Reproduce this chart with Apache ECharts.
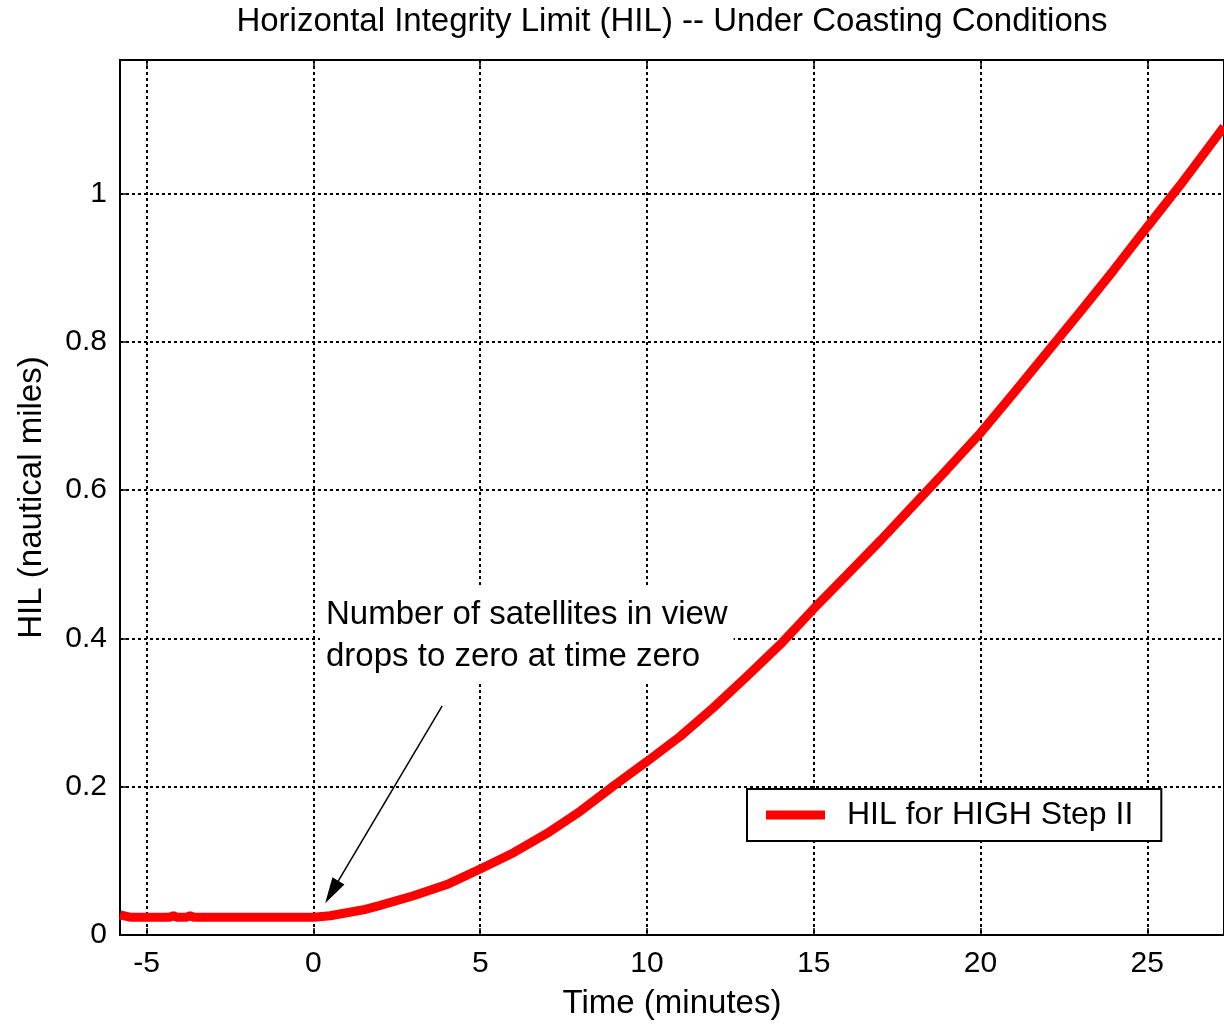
<!DOCTYPE html>
<html>
<head>
<meta charset="utf-8">
<title>HIL under coasting conditions</title>
<script src="https://cdn.jsdelivr.net/npm/echarts@6/dist/echarts.min.js"></script>
<style>
    html, body { margin: 0; padding: 0; background: #ffffff; }
    #echarts-hil-graph { width: 1224px; height: 1025px; }
</style>
</head>
<body>
<div id="echarts-hil-graph"></div>
<script>
/* Data. */
var time_minutes = [-5.8, -5.5, -4.3, -4.2, -4.1, -3.8, -3.7, -3.6, 0, 0.5, 1, 1.5, 2, 3, 4, 5, 6, 7, 8, 9, 10,
    11, 12, 13, 14, 15, 16, 17, 18, 19, 20, 21, 22, 23, 24, 25, 26, 27, 27.3];
var hil_nautical_miles = [0.027, 0.024, 0.024, 0.026, 0.024, 0.024, 0.026, 0.024, 0.024, 0.026, 0.030, 0.034, 0.040,
    0.053, 0.068, 0.089, 0.111, 0.137, 0.167, 0.201, 0.234, 0.268, 0.307, 0.349, 0.392, 0.440, 0.486, 0.532, 0.580,
    0.628, 0.677, 0.731, 0.786, 0.841, 0.897, 0.955, 1.012, 1.072, 1.090];

var x_ticks = [-5, 0, 5, 10, 15, 20, 25];
var x_tick_labels = ['-5', '0', '5', '10', '15', '20', '25'];
var y_ticks = [0, 0.2, 0.4, 0.6, 0.8, 1];
var y_tick_labels = ['0', '0.2', '0.4', '0.6', '0.8', '1'];

var series_name = 'HIL for HIGH Step II';
var annotation_text = 'Number of satellites in view\ndrops to zero at time zero';
var arrow_from = [3.86, 0.309];
var arrow_to = [0.55, 0.058];

var font_family = '"Liberation Sans", Arial, Helvetica, sans-serif';
var hil_color = '#ff0000';

var hil_points = [];
for (var i = 0; i < time_minutes.length; i++) {
    hil_points.push([time_minutes[i], hil_nautical_miles[i]]);
}

function tick_label(ticks, labels) {
    return function (value) {
        for (var k = 0; k < ticks.length; k++) {
            if (Math.abs(ticks[k] - value) < 1e-9) {
                return labels[k];
            }
        }
        return '';
    };
}

var grid_line = { color: '#000000', width: 2, type: [3, 3] };

var echarts_hil_graph = echarts.init(document.getElementById('echarts-hil-graph'));

var option = {
    animation: false,
    backgroundColor: '#ffffff',
    title: {
        text: 'Horizontal Integrity Limit (HIL) -- Under Coasting Conditions',
        left: 672,
        top: 5,
        padding: 0,
        textAlign: 'center',
        textStyle: {
            fontFamily: font_family,
            fontSize: 33,
            fontWeight: 'normal',
            color: '#000000'
        }
    },
    grid: {
        left: 120,
        top: 60,
        right: -2,
        bottom: 89,
        show: true,
        borderColor: '#000000',
        borderWidth: 2
    },
    legend: {
        data: [series_name],
        left: 747,
        top: 789,
        icon: 'rect',
        itemWidth: 59,
        itemHeight: 9,
        padding: [10, 28, 10, 19],
        backgroundColor: '#ffffff',
        borderColor: '#000000',
        borderWidth: 2,
        borderRadius: 0,
        selectedMode: false,
        itemStyle: { color: hil_color },
        textStyle: {
            fontFamily: font_family,
            fontSize: 32,
            color: '#000000',
            padding: [0, 0, 0, 17]
        }
    },
    xAxis: [
        {
            type: 'value',
            position: 'bottom',
            min: -5.8,
            max: 27.3,
            name: 'Time (minutes)',
            nameLocation: 'middle',
            nameGap: 52,
            nameTextStyle: { fontFamily: font_family, fontSize: 33, color: '#000000' },
            axisLine: { show: true, onZero: false, lineStyle: { color: '#000000', width: 2 } },
            axisTick: { show: true, inside: true, length: 7, customValues: x_ticks, lineStyle: { color: '#000000', width: 1.5 } },
            axisLabel: {
                customValues: x_ticks,
                formatter: tick_label(x_ticks, x_tick_labels),
                fontFamily: font_family,
                fontSize: 30,
                color: '#000000',
                margin: 14
            },
            splitLine: { show: true, lineStyle: grid_line }
        },
        {
            type: 'value',
            position: 'top',
            min: -5.8,
            max: 27.3,
            axisLine: { show: true, onZero: false, lineStyle: { color: '#000000', width: 2 } },
            axisTick: { show: true, inside: true, length: 7, customValues: x_ticks, lineStyle: { color: '#000000', width: 1.5 } },
            axisLabel: { show: false },
            splitLine: { show: false }
        }
    ],
    yAxis: [
        {
            type: 'value',
            min: 0,
            max: 1.18,
            name: 'HIL (nautical miles)',
            nameLocation: 'middle',
            nameGap: 72,
            nameTextStyle: { fontFamily: font_family, fontSize: 33, color: '#000000' },
            axisLine: { show: true, onZero: false, lineStyle: { color: '#000000', width: 2 } },
            axisTick: { show: true, inside: true, length: 7, customValues: y_ticks, lineStyle: { color: '#000000', width: 1.5 } },
            axisLabel: {
                customValues: y_ticks,
                formatter: tick_label(y_ticks, y_tick_labels),
                fontFamily: font_family,
                fontSize: 30,
                color: '#000000',
                margin: 13
            },
            splitLine: { show: true, lineStyle: grid_line }
        }
    ],
    graphic: [
        {
            type: 'text',
            left: 320,
            top: 588,
            z: 10,
            style: {
                text: annotation_text,
                fontFamily: font_family,
                fontSize: 33,
                lineHeight: 42,
                fill: '#000000',
                backgroundColor: '#ffffff',
                padding: [6, 6, 5, 6]
            }
        }
    ],
    series: [
        {
            name: series_name,
            type: 'line',
            xAxisIndex: 0,
            yAxisIndex: 0,
            data: hil_points,
            showSymbol: false,
            symbol: 'none',
            z: 3,
            lineStyle: { color: hil_color, width: 9 },
            itemStyle: { color: hil_color },
            markLine: {
                silent: true,
                symbol: ['none', 'triangle'],
                symbolSize: [14, 26],
                label: { show: false },
                lineStyle: { color: '#000000', width: 1.5, type: 'solid' },
                itemStyle: { color: '#000000' },
                data: [
                    [{ coord: arrow_from }, { coord: arrow_to }]
                ]
            }
        }
    ]
};
echarts_hil_graph.setOption(option);
</script>
</body>
</html>
